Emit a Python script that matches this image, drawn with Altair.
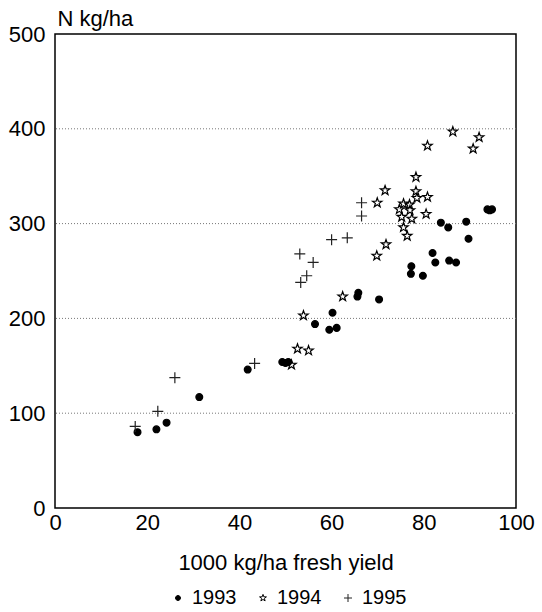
import math
import altair as alt
import pandas as pd

# Data
x_1993 = [17.9, 22.0, 24.2, 31.3, 41.8, 49.3, 50.0, 50.6, 56.4, 59.5, 61.1, 60.2,
          65.6, 65.8, 70.3, 77.3, 77.2, 79.8, 81.9, 82.5, 85.5, 87.0, 83.7, 85.3,
          89.2, 89.7, 93.8, 94.3, 94.8]
y_1993 = [80, 83, 90, 117, 146, 154, 153, 154, 194, 188, 190, 206,
          223, 227, 220, 255, 247, 245, 269, 259, 261, 259, 301, 296,
          302, 284, 315, 314, 315]

x_1994 = [51.3, 52.6, 55.0, 53.9, 62.4, 69.8, 71.8, 75.6, 76.4, 75.2, 77.4, 80.5,
          74.7, 77.0, 75.6, 76.9, 78.5, 80.8, 69.9, 71.6, 78.3, 78.3, 80.8, 86.3,
          92.0, 90.7]
y_1994 = [151, 168, 166, 203, 223, 266, 278, 296, 287, 307, 305, 310,
          315, 314, 321, 320, 327, 328, 322, 335, 334, 349, 382, 397,
          391, 379]

x_1995 = [17.4, 22.3, 26.0, 43.3, 53.3, 54.6, 56.0, 53.1, 60.0, 63.4, 66.5, 66.5]
y_1995 = [86, 102, 137.5, 152.5, 238, 245, 259, 268, 283, 285, 308, 322]

years = ["1993", "1994", "1995"]
x_ticks = [0, 20, 40, 60, 80, 100]
y_ticks = [0, 100, 200, 300, 400, 500]

rows = []
for yr, xs, ys in zip(years, [x_1993, x_1994, x_1995], [y_1993, y_1994, y_1995]):
    for a, b in zip(xs, ys):
        rows.append({"yield": a, "N": b, "year": yr})
df = pd.DataFrame(rows)

# symbol paths (unit coordinates)
pts = []
for k in range(10):
    ang = math.radians(-90 + 36 * k)
    r = 0.9 if k % 2 == 0 else 0.36
    pts.append(f"{r*math.cos(ang):.3f},{r*math.sin(ang):.3f}")
star_path = "M" + "L".join(pts) + "Z"
plus_path = "M-1,0L1,0M0,-1L0,1"
cr = 0.62
circle_path = f"M{-cr},0A{cr},{cr} 0 1,0 {cr},0A{cr},{cr} 0 1,0 {-cr},0Z"

FONT = "Liberation Sans"

legend = alt.Legend(title=None, orient="none", direction="horizontal",
                    legendX=113, legendY=554, symbolSize=64,
                    symbolStrokeWidth=1, columnPadding=16, labelOffset=4,
                    labelFontSize=20, labelFont=FONT, labelColor="black")

grid = alt.Chart(pd.DataFrame({"g": [100, 200, 300, 400]})).mark_rule(
    color="#777", strokeDash=[1, 2], strokeWidth=1
).encode(y=alt.Y("g:Q", scale=alt.Scale(domain=[0, 500])))

points = alt.Chart(df).mark_point(strokeWidth=1.2, opacity=1, size=121).encode(
    x=alt.X("yield:Q", scale=alt.Scale(domain=[0, 100], nice=False),
            axis=alt.Axis(values=x_ticks, title="1000 kg/ha fresh yield", grid=False,
                          ticks=False, domain=False, labelPadding=4, titlePadding=19,
                          labelFlush=False)),
    y=alt.Y("N:Q", scale=alt.Scale(domain=[0, 500], nice=False),
            axis=alt.Axis(values=y_ticks, title="N kg/ha", grid=False, ticks=False,
                          domain=False, labelPadding=10, titleAngle=0, titleAlign="left",
                          titleBaseline="alphabetic", titleX=2, titleY=-9,
                          labelFlush=False)),
    shape=alt.Shape("year:N", scale=alt.Scale(domain=years, range=[circle_path, star_path, plus_path]),
                    legend=legend),
    fill=alt.Fill("year:N", scale=alt.Scale(domain=years, range=["black", "transparent", "transparent"]),
                  legend=legend),
    stroke=alt.Stroke("year:N", scale=alt.Scale(domain=years, range=["black", "black", "#222"]),
                      legend=legend),
)

chart = alt.layer(grid, points).properties(
    width=461, height=474,
    autosize=alt.AutoSizeParams(type="none"),
    padding={"left": 55, "top": 34, "right": 26, "bottom": 104},
).configure(
    background="white",
    font=FONT,
).configure_view(
    stroke="black", strokeWidth=1.5
).configure_axis(
    labelFont=FONT, titleFont=FONT, labelFontSize=22, titleFontSize=22,
    labelColor="black", titleColor="black", titleFontWeight="normal"
)

chart.save("out.html", embed_options={"renderer": "svg", "actions": False})
